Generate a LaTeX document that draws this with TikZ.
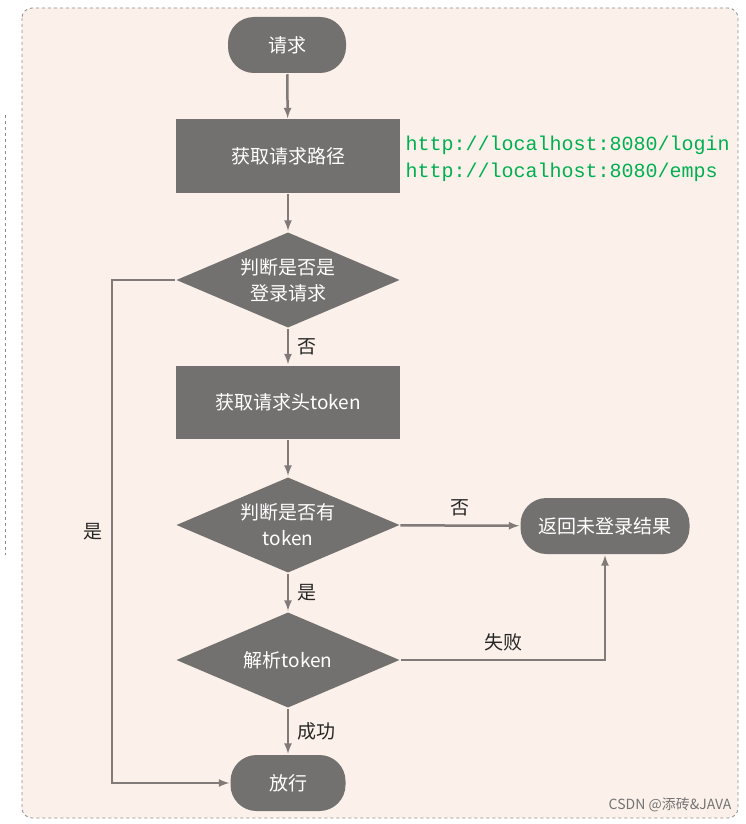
\documentclass[tikz,border=0pt]{standalone}
\usepackage{fontspec}
\setmainfont{Noto Sans CJK SC}
\newfontfamily\codefont{Liberation Mono}
\usetikzlibrary{arrows,shapes.geometric}
\definecolor{boxgray}{HTML}{737070}
\definecolor{linegray}{HTML}{807A78}
\definecolor{bgpeach}{HTML}{FBF1EA}
\definecolor{urlgreen}{HTML}{00B050}

\begin{document}
\begin{tikzpicture}[x=1pt,y=-1pt,->,>=latex,line width=2.5pt,
  every node/.style={font=\fontsize{19}{23}\selectfont},
  term/.style={draw=none,fill=boxgray,text=white,rounded corners=26pt,minimum height=56pt},
  proc/.style={draw=none,fill=boxgray,text=white,minimum width=224pt,minimum height=73pt},
  decide/.style={diamond,aspect=2.33,draw=none,fill=boxgray,text=white,minimum width=224pt,minimum height=96pt,inner sep=0pt,align=center,font=\fontsize{19}{26}\selectfont},
  lbl/.style={text=black!85,inner sep=8pt}]
\useasboundingbox (0,0) rectangle (745,824);
\draw[-,dashed,line width=0.8pt,draw=black!45,fill=bgpeach,rounded corners=10pt] (22,8) rectangle (738,818);
\draw[-,dashed,line width=0.8pt,draw=black!45] (5,115) -- (5,555);

\node[term,minimum width=118pt] (req) at (287,45) {请求};
\node[proc] (path) at (288,156) {获取请求路径};
\node[anchor=west,text=urlgreen,align=left,font=\codefont\fontsize{20}{27}\selectfont] (urls) at (401,159) {http://localhost:8080/login\\http://localhost:8080/emps};
\node[decide] (islogin) at (288,280) {判断是否是\\登录请求};
\node[proc] (hdr) at (288,402) {获取请求头token};
\node[decide] (hastok) at (288,525) {判断是否有\\token};
\node[term,minimum width=169pt] (fail) at (605,526) {返回未登录结果};
\node[decide] (parse) at (288,660) {解析token};
\node[term,minimum width=115pt] (pass) at (288,783) {放行};
\node[anchor=south east,text=black!55,font=\fontsize{14}{16}\selectfont] (mark) at (736,816) {CSDN @添砖\&JAVA};

\draw[linegray] (req) -- (path);
\draw[linegray] (path) -- (islogin);
\draw[linegray] (islogin) -- node[lbl,right] {否} (hdr);
\draw[linegray] (hdr) -- (hastok);
\draw[linegray] (hastok) -- node[lbl,above] {否} (fail);
\draw[linegray] (hastok) -- node[lbl,right] {是} (parse);
\draw[linegray] (parse.east) -- node[lbl,above] {失败} (605,660) -- (fail.south);
\draw[linegray] (parse) -- node[lbl,right] {成功} (pass);
\draw[linegray] (islogin.west) -- (112,280) -- node[lbl,left,pos=0.5] {是} (112,783) -- (pass.west);
\end{tikzpicture}
\end{document}
